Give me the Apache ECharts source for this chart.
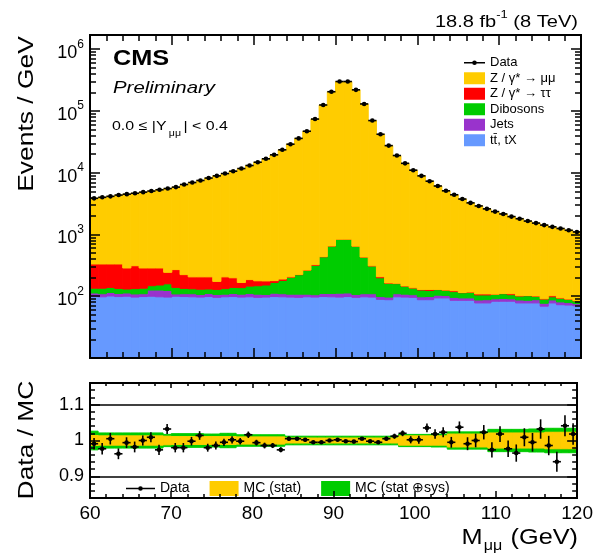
<!DOCTYPE html>
<html lang="en">
<head>
<meta charset="UTF-8">
<title>Dimuon invariant mass, 0.0 &le; |Y| &lt; 0.4</title>
<script src="https://cdn.jsdelivr.net/npm/echarts@6/dist/echarts.min.js"></script>
<style>
  body { margin: 0; background: #fff; }
  #chart { width: 596px; height: 559px; }
</style>
</head>
<body>
<div id="chart"></div>
<script>
// 1 GeV bins, lower edges
const binLow = [60,61,62,63,64,65,66,67,68,69,70,71,72,73,74,75,76,77,78,79,
                80,81,82,83,84,85,86,87,88,89,90,91,92,93,94,95,96,97,98,99,
                100,101,102,103,104,105,106,107,108,109,110,111,112,113,114,115,116,117,118,119];

// Events / GeV
const dataEvents = [3850,4000,4150,4350,4500,4650,4850,5050,5300,5550,
                    5850,6450,6950,7500,8200,8900,9700,10600,11700,13100,
                    14800,16800,19500,23500,29000,36000,47000,74000,125000,205000,
                    300000,300000,220000,130000,70000,42000,27500,19000,14200,11000,
                    8900,7300,6100,5100,4400,3750,3250,2900,2600,2350,
                    2150,1950,1800,1650,1530,1420,1330,1250,1170,1100];
const zmumu = [3520,3670,3820,4020,4210,4340,4560,4760,5010,5310,
               5580,6230,6740,7290,7990,8730,9490,10400,11530,12910,
               14620,16620,19320,23310,28790,35770,46740,73680,124560,204350,
               299160,299160,219350,129570,69690,41790,27340,18840,14050,10860,
               8770,7170,5970,4970,4280,3640,3130,2790,2490,2240,
               2040,1840,1700,1550,1430,1330,1230,1160,1080,1015];
const ztautau = [198,198,194,199,156,179,152,139,135,85,
                 131,90,74,76,75,45,73,60,29,40,
                 30,25,12,10,3,3,2,8,2,1,
                 1,1,1,1,1,8,2,2,1,1,
                 3,5,1,1,4,1,1,4,4,1,
                 1,4,1,1,1,1,4,1,1,1];
const dibosons = [22,25,24,23,18,24,25,22,26,35,
                  30,24,22,23,20,22,25,28,30,35,
                  40,45,55,70,95,115,155,210,325,540,
                  725,725,540,320,200,100,65,50,38,30,
                  28,25,24,22,23,20,22,18,17,16,
                  18,15,14,16,12,13,11,12,10,8];
const jets = [13,12,14,12,13,12,11,26,28,27,
              9,11,12,10,12,11,10,12,11,13,
              12,10,13,12,11,12,10,9,12,13,
              15,14,11,12,13,10,9,12,11,10,
              10,11,10,9,10,8,8,9,10,8,
              9,8,9,8,10,8,9,8,7,6];
const ttbar = [100,98,101,99,100,97,99,100,98,97,
               100,99,98,97,99,96,98,99,97,98,
               96,97,99,98,97,96,98,97,99,98,
               97,99,96,98,97,89,88,98,97,96,
               88,88,94,94,86,86,86,78,78,83,
               83,83,78,78,78,69,78,73,72,70];

// Data / MC
const ratio = [0.991,0.977,1.005,0.963,0.994,0.982,1.000,1.009,0.974,1.032,
               0.980,0.980,0.998,1.014,0.980,0.986,0.995,1.002,0.998,1.016,
               0.994,0.986,0.986,0.974,1.005,1.005,1.002,0.995,0.995,1.000,
               1.002,0.998,0.997,1.005,0.998,0.995,1.005,1.012,1.020,1.002,
               1.002,1.035,1.018,1.023,0.995,1.037,0.991,1.000,1.023,0.974,
               1.018,0.977,0.965,1.009,0.995,1.032,0.986,0.941,1.041,1.018];
const ratioErr = [0.016,0.016,0.016,0.015,0.015,0.015,0.014,0.014,0.014,0.014,
                  0.013,0.013,0.012,0.012,0.011,0.011,0.010,0.010,0.009,0.009,
                  0.008,0.008,0.007,0.007,0.006,0.005,0.005,0.004,0.003,0.002,
                  0.002,0.002,0.002,0.003,0.004,0.005,0.006,0.007,0.008,0.010,
                  0.011,0.012,0.013,0.014,0.015,0.016,0.018,0.019,0.020,0.021,
                  0.022,0.023,0.024,0.025,0.026,0.027,0.027,0.028,0.029,0.030];
// half widths of the MC uncertainty bands around 1
const statBand = [0.014,0.013,0.013,0.013,0.013,0.013,0.013,0.013,0.013,0.012,
                  0.011,0.011,0.011,0.011,0.011,0.011,0.011,0.011,0.010,0.010,
                  0.010,0.010,0.010,0.010,0.007,0.007,0.007,0.007,0.007,0.007,
                  0.007,0.007,0.007,0.007,0.007,0.007,0.007,0.007,0.013,0.013,
                  0.013,0.013,0.013,0.013,0.018,0.018,0.018,0.018,0.018,0.021,
                  0.021,0.021,0.021,0.021,0.021,0.021,0.023,0.023,0.023,0.023];
const sysBand = [0.026,0.021,0.021,0.021,0.021,0.021,0.021,0.021,0.021,0.017,
                 0.019,0.019,0.019,0.019,0.018,0.018,0.020,0.020,0.016,0.016,
                 0.016,0.016,0.016,0.016,0.012,0.012,0.012,0.012,0.012,0.012,
                 0.012,0.012,0.012,0.012,0.012,0.012,0.012,0.012,0.017,0.017,
                 0.017,0.017,0.018,0.018,0.024,0.024,0.024,0.024,0.024,0.031,
                 0.031,0.031,0.031,0.031,0.032,0.032,0.034,0.034,0.034,0.034];

// tick values
const logMajor = [10, 100, 1000, 10000, 100000, 1000000];
const logLabels = [100, 1000, 10000, 100000, 1000000];
const logMinor = [];
logMajor.forEach(d => { for (let k = 2; k <= 9; k++) logMinor.push(d * k); });
const ratioMajor = [0.9, 1.0, 1.1];

const FONT = '"Liberation Sans", Arial, Helvetica, sans-serif';
const Y_MIN = 10, Y_MAX = 1.7e6;
const AXIS_Z = 10;

const names = ['tt\u0304, tX', 'Jets', 'Dibosons', 'Z / \u03b3* \u2192 \u03c4\u03c4', 'Z / \u03b3* \u2192 \u03bc\u03bc'];
const colors = ['#6699ff', '#9933cc', '#00cc00', '#ff0000', '#ffcc00'];
const layers = [ttbar, jets, dibosons, ztautau, zmumu];

// stack the MC contributions bin by bin
let below = binLow.map(() => 0);
const stacked = layers.map(vals => {
  const items = binLow.map((lo, i) => [lo, lo + 1, Math.max(below[i], Y_MIN), below[i] + vals[i]]);
  below = below.map((b, i) => b + vals[i]);
  return items;
});

function rectItem(params, api) {
  const p0 = api.coord([api.value(0), api.value(3)]);
  const p1 = api.coord([api.value(1), api.value(2)]);
  const c = api.visual('color');
  return {
    type: 'rect',
    shape: { x: p0[0], y: p0[1], width: p1[0] - p0[0], height: p1[1] - p0[1] },
    style: { fill: c, stroke: c, lineWidth: 1 }
  };
}

function pointItem(params, api) {
  const x = api.value(0), y = api.value(1), e = api.value(2) || 0;
  const l = api.coord([x - 0.5, y]), r = api.coord([x + 0.5, y]);
  const t = api.coord([x, y + e]), b = api.coord([x, y - e]);
  const c = api.coord([x, y]);
  const s = { stroke: '#000', lineWidth: 1.6 };
  const kids = [
    { type: 'line', shape: { x1: l[0], y1: l[1], x2: r[0], y2: r[1] }, style: s },
    { type: 'circle', shape: { cx: c[0], cy: c[1], r: 2.3 }, style: { fill: '#000' } }
  ];
  if (e > 0) kids.push({ type: 'line', shape: { x1: t[0], y1: t[1], x2: b[0], y2: b[1] }, style: s });
  return { type: 'group', children: kids };
}

function xAxisDef(grid, pos, major, minor, labels) {
  return {
    gridIndex: grid, type: 'value', position: pos, min: 60, max: 120, interval: 10, z: AXIS_Z,
    axisLine: { show: true, onZero: false, lineStyle: { color: '#000', width: 2 } },
    axisTick: { show: true, inside: true, length: major, lineStyle: { color: '#000', width: 1.5 } },
    minorTick: { show: true, splitNumber: 5, length: minor, lineStyle: { color: '#000', width: 1.5 } },
    axisLabel: labels ? { show: true, fontSize: 19, fontFamily: FONT, color: '#000', margin: 6 } : { show: false },
    splitLine: { show: false }
  };
}

function logAxisDef(pos, values, len, withLabels) {
  return {
    gridIndex: 0, type: 'log', logBase: 10, position: pos, min: Y_MIN, max: Y_MAX, z: AXIS_Z,
    axisLine: { show: true, onZero: false, lineStyle: { color: '#000', width: 2 } },
    axisTick: { show: true, inside: true, length: len, lineStyle: { color: '#000', width: 1.5 }, customValues: values },
    axisLabel: withLabels ? {
      show: true, customValues: logLabels, margin: 6,
      formatter: v => '{b|10}{s|' + Math.round(Math.log10(v)) + '}',
      rich: {
        b: { fontSize: 18, fontFamily: FONT, color: '#000', lineHeight: 22, padding: [8, 0, 0, 0] },
        s: { fontSize: 12, fontFamily: FONT, color: '#000', lineHeight: 12, verticalAlign: 'top' }
      }
    } : { show: false },
    splitLine: { show: false }
  };
}

function ratioAxisDef(pos, major, withLabels) {
  const ax = {
    gridIndex: 1, type: 'value', position: pos, min: 0.84, max: 1.16, z: AXIS_Z,
    axisLine: { show: true, onZero: false, lineStyle: { color: '#000', width: 2 } },
    axisLabel: { show: false },
    splitLine: { show: false }
  };
  if (major) {
    ax.axisTick = { show: true, inside: true, length: 10, lineStyle: { color: '#000', width: 1.5 }, customValues: ratioMajor };
    if (withLabels) {
      ax.axisLabel = {
        show: true, customValues: ratioMajor, fontSize: 18, fontFamily: FONT, color: '#000', margin: 6,
        formatter: v => (Math.abs(v - 1) < 1e-9 ? '1' : v.toFixed(1))
      };
    }
  } else {
    ax.interval = 0.02;
    ax.axisTick = { show: true, inside: true, length: 5, lineStyle: { color: '#000', width: 1.5 } };
  }
  return ax;
}

const dataIconUpper = 'path://M0,0 L0.01,0 Z M21,12 L20.99,12 Z M0,5.3 H21 V6.7 H0 Z M8.2,6 A2.3,2.3 0 1,1 12.8,6 A2.3,2.3 0 1,1 8.2,6 Z';
const dataIconLower = 'path://M0,0 L0.01,0 Z M29,15 L28.99,15 Z M0,6.8 H29 V8.2 H0 Z M12.2,7.5 A2.3,2.3 0 1,1 16.8,7.5 A2.3,2.3 0 1,1 12.2,7.5 Z';

const series = stacked.map((items, k) => ({
  type: 'custom', name: names[k], xAxisIndex: 0, yAxisIndex: 0,
  itemStyle: { color: colors[k] }, renderItem: rectItem, clip: true,
  encode: { x: [0, 1], y: [2, 3] }, data: items, silent: true
}));

series.push({
  type: 'custom', name: 'Data', xAxisIndex: 0, yAxisIndex: 0,
  itemStyle: { color: '#000' }, renderItem: pointItem, clip: true,
  encode: { x: 0, y: 1 }, data: binLow.map((lo, i) => [lo + 0.5, dataEvents[i]]), silent: true
});

series.push({
  type: 'custom', name: 'MC (stat \u2295sys)', xAxisIndex: 2, yAxisIndex: 5,
  itemStyle: { color: '#00cc00' }, renderItem: rectItem, clip: true,
  encode: { x: [0, 1], y: [2, 3] }, data: binLow.map((lo, i) => [lo, lo + 1, 1 - sysBand[i], 1 + sysBand[i]]), silent: true
});
series.push({
  type: 'custom', name: 'MC (stat)', xAxisIndex: 2, yAxisIndex: 5,
  itemStyle: { color: '#ffcc00' }, renderItem: rectItem, clip: true,
  encode: { x: [0, 1], y: [2, 3] }, data: binLow.map((lo, i) => [lo, lo + 1, 1 - statBand[i], 1 + statBand[i]]), silent: true
});
series.push({
  type: 'custom', name: 'Data', xAxisIndex: 2, yAxisIndex: 5,
  itemStyle: { color: '#000' }, renderItem: pointItem, clip: true,
  encode: { x: 0, y: 1 }, data: binLow.map((lo, i) => [lo + 0.5, ratio[i], ratioErr[i]]), silent: true,
  markLine: {
    silent: true, symbol: 'none', label: { show: false }, animation: false,
    lineStyle: { color: '#000', width: 1.5, type: 'solid' },
    data: [{ yAxis: 1.1 }, { yAxis: 0.9 }]
  }
});

const chart = echarts.init(document.getElementById('chart'), null, { renderer: 'canvas' });
chart.setOption({
  animation: false,
  backgroundColor: '#fff',
  grid: [
    { left: 90, top: 35, width: 491, height: 323 },
    { left: 90, top: 383, width: 491, height: 115 }
  ],
  xAxis: [
    xAxisDef(0, 'bottom', 10, 6, false),
    xAxisDef(0, 'top', 10, 6, false),
    xAxisDef(1, 'bottom', 7, 4, true),
    xAxisDef(1, 'top', 5, 3, false)
  ],
  yAxis: [
    logAxisDef('left', logMajor, 10, true),
    logAxisDef('left', logMinor, 6, false),
    logAxisDef('right', logMajor, 10, false),
    logAxisDef('right', logMinor, 6, false),
    ratioAxisDef('left', false, false),
    ratioAxisDef('left', true, true),
    ratioAxisDef('right', false, false),
    ratioAxisDef('right', true, false)
  ],
  legend: [
    {
      left: 459, top: 50, orient: 'vertical', selectedMode: false,
      itemWidth: 21, itemHeight: 12, itemGap: 0,
      textStyle: { fontSize: 13, fontFamily: FONT, color: '#000', lineHeight: 15.5 },
      data: [
        { name: 'Data', icon: dataIconUpper },
        { name: names[4], icon: 'rect' },
        { name: names[3], icon: 'rect' },
        { name: names[2], icon: 'rect' },
        { name: names[1], icon: 'rect' },
        { name: names[0], icon: 'rect' }
      ]
    },
    {
      left: 121, top: 476, orient: 'horizontal', selectedMode: false,
      itemWidth: 29, itemHeight: 15, itemGap: 20,
      textStyle: { fontSize: 14, fontFamily: FONT, color: '#000' },
      data: [
        { name: 'Data', icon: dataIconLower },
        { name: 'MC (stat)', icon: 'rect' },
        { name: 'MC (stat \u2295sys)', icon: 'rect' }
      ]
    }
  ],
  graphic: [
    { type: 'text', x: 113, y: 59, scaleX: 1.15,
      style: { text: 'CMS', fill: '#000', font: 'bold 22px ' + FONT, verticalAlign: 'middle', textVerticalAlign: 'middle' } },
    { type: 'text', x: 113, y: 88, scaleX: 1.2,
      style: { text: 'Preliminary', fill: '#000', font: 'italic 17px ' + FONT, verticalAlign: 'middle', textVerticalAlign: 'middle' } },
    { type: 'text', x: 112, y: 127, scaleX: 1.18,
      style: {
        text: '{a|0.0 \u2264 |Y}{s|\u03bc\u03bc}{a|| < 0.4}', verticalAlign: 'middle', textVerticalAlign: 'middle',
        rich: {
          a: { fontSize: 13.5, fontFamily: FONT, fill: '#000', lineHeight: 22, verticalAlign: 'top', padding: [3, 0, 0, 0] },
          s: { fontSize: 9, fontFamily: FONT, fill: '#000', lineHeight: 10, verticalAlign: 'bottom', padding: [0, 2, 0, 2] }
        }
      } },
    { type: 'text', x: 578, y: 20, scaleX: 1.18,
      style: {
        text: '{a|18.8 fb}{s|-1}{a| (8 TeV)}', align: 'right', textAlign: 'right', verticalAlign: 'middle', textVerticalAlign: 'middle',
        rich: {
          a: { fontSize: 17, fontFamily: FONT, fill: '#000', lineHeight: 22, verticalAlign: 'bottom' },
          s: { fontSize: 11, fontFamily: FONT, fill: '#000', lineHeight: 12, verticalAlign: 'top' }
        }
      } },
    { type: 'text', x: 27, y: 114, rotation: Math.PI / 2, scaleX: 1.2,
      style: { text: 'Events / GeV', fill: '#000', font: '22px ' + FONT, align: 'center', textAlign: 'center', verticalAlign: 'middle', textVerticalAlign: 'middle' } },
    { type: 'text', x: 27, y: 440, rotation: Math.PI / 2, scaleX: 1.2,
      style: { text: 'Data / MC', fill: '#000', font: '22px ' + FONT, align: 'center', textAlign: 'center', verticalAlign: 'middle', textVerticalAlign: 'middle' } },
    { type: 'text', x: 578, y: 540, scaleX: 1.15,
      style: {
        text: '{m|M}{s|\u03bc\u03bc}{m| (GeV)}', align: 'right', textAlign: 'right', verticalAlign: 'middle', textVerticalAlign: 'middle',
        rich: {
          m: { fontSize: 22, fontFamily: FONT, fill: '#000', lineHeight: 26, verticalAlign: 'top' },
          s: { fontSize: 14, fontFamily: FONT, fill: '#000', lineHeight: 14, verticalAlign: 'bottom', padding: [0, 1, 0, 1] }
        }
      } }
  ],
  series: series
});
</script>
</body>
</html>
